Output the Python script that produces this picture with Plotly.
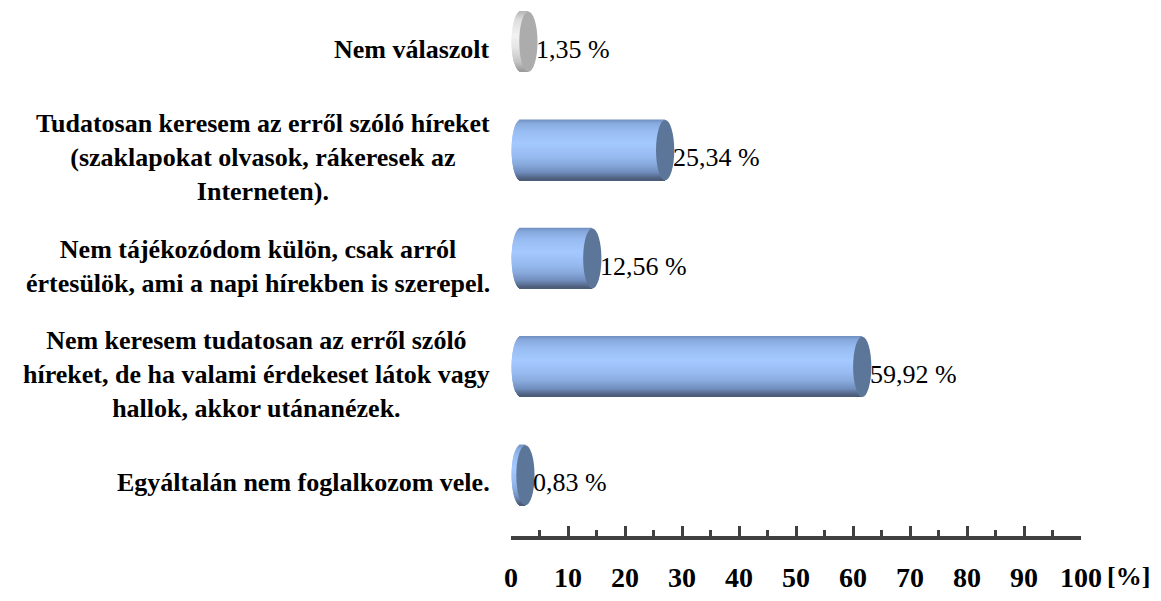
import numpy as np
import plotly.graph_objects as go

# ---- data (bottom to top) ----
categories = [
    "Egyáltalán nem foglalkozom vele.",
    "Nem keresem tudatosan az erről szóló<br>híreket, de ha valami érdekeset látok vagy<br>hallok, akkor utánanézek.",
    "Nem tájékozódom külön, csak arról<br>értesülök, ami a napi hírekben is szerepel.",
    "Tudatosan keresem az erről szóló híreket<br>(szaklapokat olvasok, rákeresek az<br>Interneten).",
    "Nem válaszolt",
]
values = [0.83, 59.92, 12.56, 25.34, 1.35]
is_gray = [False, False, False, False, True]
x_ticks = [0, 10, 20, 30, 40, 50, 60, 70, 80, 90, 100]
unit_label = "[%]"

# ---- style ----
SERIF = "Liberation Serif, Times New Roman, serif"
B0 = 1.7      # cylinder start offset (axis units)
RX = 1.6      # ellipse half-width (axis units)
DY = 0.07     # bar centre shift relative to category (upwards)
H = 0.555     # bar thickness (category units)
N = 61        # gradient stripes

blue_stops = [(0.0, "#6f8fbf"), (0.06, "#86a8dc"), (0.2, "#98bdf3"), (0.4, "#a4c9ff"),
              (0.6, "#98bcf2"), (0.75, "#88a9dc"), (0.88, "#6f8cbb"), (0.96, "#56698a"),
              (1.0, "#4a5a76")]
gray_stops = [(0.0, "#b5b5b5"), (0.15, "#dedede"), (0.4, "#f2f2f2"), (0.6, "#e6e6e6"),
              (0.85, "#c4c4c4"), (1.0, "#9a9a9a")]
blue_cap = "#5c7699"
gray_cap = "#acacac"


def interp(stops, t):
    for (t0, c0), (t1, c1) in zip(stops[:-1], stops[1:]):
        if t0 <= t <= t1:
            f = (t - t0) / (t1 - t0) if t1 > t0 else 0
            a = [int(c0[i:i + 2], 16) for i in (1, 3, 5)]
            b = [int(c1[i:i + 2], 16) for i in (1, 3, 5)]
            return "rgb(%d,%d,%d)" % tuple(round(a[j] + (b[j] - a[j]) * f) for j in range(3))
    return stops[-1][1]


ypos = list(range(len(categories)))
fig = go.Figure()
h = H / N
for k in range(N):
    t = (k + 0.5) / N
    s = 2 * t - 1
    half = RX * np.sqrt(max(0.0, 1 - s * s))
    bases = [B0 - half for _ in values]
    lengths = [v + half for v in values]
    cols = [interp(gray_stops if g else blue_stops, t) for g in is_gray]
    fig.add_trace(go.Bar(
        orientation="h", y=ypos, x=lengths, base=bases,
        width=h * 1.6, offset=DY + H / 2 - (k + 1) * h,
        marker=dict(color=cols, line=dict(width=0)),
        hoverinfo="skip", showlegend=False,
    ))

# end caps
for yi, v, g in zip(ypos, values, is_gray):
    c = B0 + v
    fig.add_shape(type="circle", xref="x", yref="y",
                  x0=c - RX, x1=c + RX, y0=yi + DY - H / 2, y1=yi + DY + H / 2,
                  fillcolor=gray_cap if g else blue_cap, line=dict(width=0), layer="above")

# value labels
for yi, v in zip(ypos, values):
    fig.add_annotation(x=v + B0 + 1.2, y=yi, xref="x", yref="y", xanchor="left", yanchor="middle",
                       text=f"{v:.2f}".replace(".", ",") + " %", showarrow=False, borderpad=0,
                       font=dict(family=SERIF, size=26, color="black"))

# category labels
for yi, cat in zip(ypos, categories):
    fig.add_annotation(x=0, y=yi, xref="paper", yref="y", xanchor="right", yanchor="middle",
                       xshift=-20, align="center", text=cat, showarrow=False, borderpad=0,
                       font=dict(family=SERIF, size=26, color="black", weight="bold"))

fig.add_annotation(x=1, y=0, xref="paper", yref="paper", xanchor="right", yanchor="middle",
                   xshift=70, yshift=-40, text=unit_label, showarrow=False, borderpad=0,
                   font=dict(family=SERIF, size=26, color="black", weight="bold"))

fig.update_layout(
    width=1145, height=585, barmode="overlay",
    margin=dict(l=503, r=72, t=0, b=49),
    paper_bgcolor="white", plot_bgcolor="white",
    xaxis=dict(range=[0, 100], tickvals=x_ticks, ticks="inside", ticklen=10, tickwidth=3,
               tickcolor="#404040", showline=True, linewidth=4, linecolor="#404040",
               showgrid=False, zeroline=False, ticklabelstandoff=13,
               minor=dict(dtick=5, ticks="inside", ticklen=6, tickwidth=3, tickcolor="#404040"),
               tickfont=dict(family=SERIF, size=28, color="black", weight="bold")),
    yaxis=dict(range=[-0.4909, 4.3818], visible=False, showgrid=False, zeroline=False),
)

fig.write_html("out.html")
